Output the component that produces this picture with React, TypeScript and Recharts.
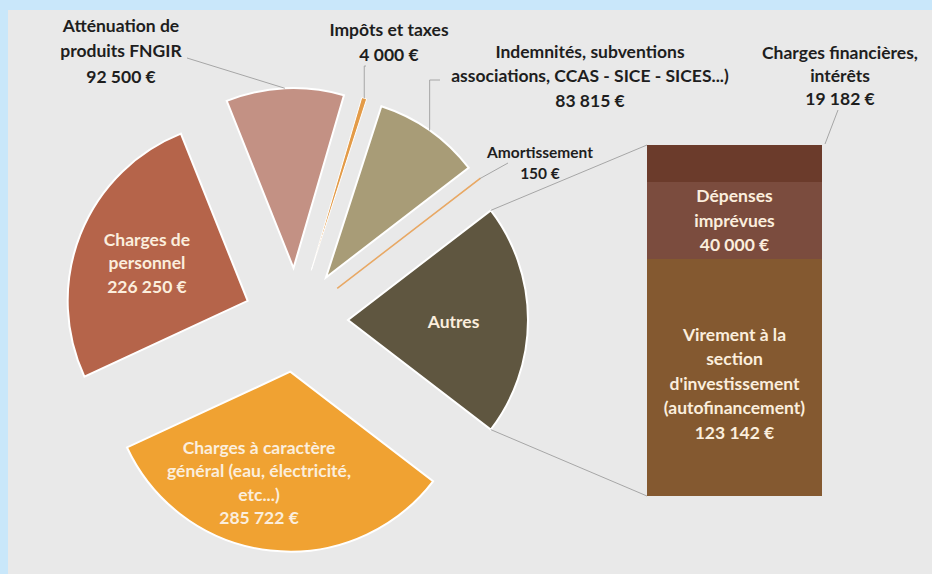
import React from "react";
import {
  PieChart,
  Pie,
  Cell,
  Sector,
  BarChart,
  Bar,
  XAxis,
  YAxis,
  LabelList,
} from "recharts";

const W = 932;
const H = 574;

// Détail de la part "Autres" (barre empilée, du bas vers le haut)
const barNames = ["Virement", "Dépenses imprévues", "Charges financières"];
const barLines = [
  ["Virement à la", "section", "d'investissement", "(autofinancement)"],
  ["Dépenses", "imprévues"],
  ["Charges financières,", "intérêts"],
];
const barValues = [123142, 40000, 19182];
const barColors = ["#845930", "#7B4C3E", "#6B3B2B"];

const autresValue = barValues.reduce((s, v) => s + v, 0);

// Camembert, dans le sens horaire à partir de "Autres"
const pieNames = [
  "Autres",
  "Charges à caractère général",
  "Charges de personnel",
  "Atténuation de produits FNGIR",
  "Impôts et taxes",
  "Indemnités, subventions",
  "Amortissement",
];
const pieLines = [
  ["Autres"],
  ["Charges à caractère", "général (eau, électricité,", "etc...)"],
  ["Charges de", "personnel"],
  ["Atténuation de", "produits FNGIR"],
  ["Impôts et taxes"],
  ["Indemnités, subventions", "associations, CCAS - SICE - SICES...)"],
  ["Amortissement"],
];
const pieValues = [autresValue, 285722, 226250, 92500, 4000, 83815, 150];
const pieColors = ["#5F5640", "#F0A232", "#B5644A", "#C39184", "#E39B48", "#A89C77", "#E8A864"];

const pieData = pieNames.map((name, i) => ({ name, value: pieValues[i] }));
const pieTotal = pieValues.reduce((s, v) => s + v, 0);
const barRow = barNames.reduce<Record<string, number | string>>(
  (row, n, i) => ({ ...row, [n]: barValues[i] }),
  { name: "Autres" }
);

// mise en page
const PIE = { cx: 296, cy: 320, r: 180, explode: 52 };
const BAR_BOX = { left: 647, top: 145, right: 822, bottom: 496 };
const START = (autresValue / pieTotal) * 180;
const FONT = "Lato, 'Open Sans', sans-serif";
const FS = 17.5;
const DARK = "#1E1E1E";
const CREAM = "#FBEEDD";
const LEADER = "#A6A6A6";

// étiquettes extérieures (index de la part -> position du texte, départ du trait)
const callouts: Record<number, { x: number; y: number; fs: number; lh: number; from: [number, number]; elbow?: boolean }> = {
  3: { x: 121, y: 25, fs: FS, lh: 25.5, from: [187, 58] },
  4: { x: 389, y: 29, fs: FS, lh: 25.5, from: [366, 66], elbow: true },
  5: { x: 590, y: 51, fs: FS, lh: 24.5, from: [440, 80], elbow: true },
  6: { x: 540, y: 152, fs: 15.5, lh: 21, from: [508, 163] },
};
// petits décalages des étiquettes intérieures
const insideNudge: Record<number, [number, number]> = { 0: [-6, 1], 1: [-19, 0], 2: [3, 3] };
const barNudge = [6, 0, 0];
const finCallout = { x: 840, y: 52, fs: FS, lh: 23, from: [838, 110] as [number, number] };

const RAD = Math.PI / 180;
const polar = (cx: number, cy: number, r: number, a: number) => [
  cx + r * Math.cos(-a * RAD),
  cy + r * Math.sin(-a * RAD),
];
const fmt = (v: number) => String(v).replace(/\B(?=(\d{3})+(?!\d))/g, " ") + " €";

const TextBlock = ({ x, y, lines, fs, lh, fill }: any) => (
  <text x={x} y={y} textAnchor="middle" fontFamily={FONT} fontWeight={700} fontSize={fs} fill={fill}>
    {lines.map((l: string, k: number) => (
      <tspan key={k} x={x} y={y + k * lh} dominantBaseline="central">
        {l}
      </tspan>
    ))}
  </text>
);

const explodedSlice = (props: any) => {
  const { cx, cy, innerRadius, outerRadius, startAngle, endAngle, midAngle, fill, stroke, strokeWidth } = props;
  const [ex, ey] = polar(cx, cy, PIE.explode, midAngle);
  return (
    <Sector
      cx={ex}
      cy={ey}
      innerRadius={innerRadius}
      outerRadius={outerRadius}
      startAngle={startAngle}
      endAngle={endAngle}
      fill={fill}
      stroke={stroke}
      strokeWidth={strokeWidth}
    />
  );
};

const pieLabel = (props: any) => {
  const { cx, cy, midAngle, outerRadius, startAngle, endAngle, index } = props;
  const [ex, ey] = polar(cx, cy, PIE.explode, midAngle);
  const lines = index === 0 ? pieLines[0] : [...pieLines[index], fmt(pieValues[index])];
  const c = callouts[index];
  if (c) {
    const [tx, ty] = polar(ex, ey, outerRadius, midAngle);
    const pts = c.elbow
      ? `${c.from[0]},${c.from[1]} ${tx},${c.from[1]} ${tx},${ty}`
      : `${c.from[0]},${c.from[1]} ${tx},${ty}`;
    return (
      <g key={`l${index}`}>
        <polyline points={pts} fill="none" stroke={LEADER} strokeWidth={1} />
        <TextBlock x={c.x} y={c.y} lines={lines} fs={c.fs} lh={c.lh} fill={DARK} />
      </g>
    );
  }
  const [lx, ly] = polar(ex, ey, outerRadius * 0.62, midAngle);
  const [nx, ny] = insideNudge[index] ?? [0, 0];
  const lh = 23.5;
  const connectors =
    index === 0
      ? (() => {
          const [ax, ay] = polar(ex, ey, outerRadius, startAngle);
          const [bx, by] = polar(ex, ey, outerRadius, endAngle);
          return (
            <>
              <line x1={ax} y1={ay} x2={BAR_BOX.left} y2={BAR_BOX.top} stroke={LEADER} strokeWidth={1} />
              <line x1={bx} y1={by} x2={BAR_BOX.left} y2={BAR_BOX.bottom} stroke={LEADER} strokeWidth={1} />
            </>
          );
        })()
      : null;
  return (
    <g key={`l${index}`}>
      {connectors}
      <TextBlock
        x={lx + nx}
        y={ly + ny - ((lines.length - 1) * lh) / 2}
        lines={lines}
        fs={FS}
        lh={lh}
        fill={CREAM}
      />
    </g>
  );
};

const barLabel = (i: number) => (props: any) => {
  const { x, y, width, height } = props;
  const lines = [...barLines[i], fmt(barValues[i])];
  if (i === 2) {
    const c = finCallout;
    return (
      <g>
        <line x1={c.from[0]} y1={c.from[1]} x2={x + width + 3} y2={y - 1} stroke={LEADER} strokeWidth={1} />
        <TextBlock x={c.x} y={c.y} lines={lines} fs={c.fs} lh={c.lh} fill={DARK} />
      </g>
    );
  }
  const lh = 24.5;
  return (
    <TextBlock
      x={x + width / 2}
      y={y + height / 2 - ((lines.length - 1) * lh) / 2 + barNudge[i]}
      lines={lines}
      fs={FS}
      lh={lh}
      fill={CREAM}
    />
  );
};

export default function App() {
  return (
    <div style={{ position: "fixed", left: 0, top: 0, width: W, height: H, background: "#C9E7FA", overflow: "hidden" }}>
      <div style={{ position: "absolute", left: 8, top: 10, right: 0, bottom: 0, background: "#E9E9E9" }} />
      <div style={{ position: "absolute", left: 0, top: 0 }}>
        <PieChart width={W} height={H} margin={{ top: 0, right: 0, bottom: 0, left: 0 }}>
          <Pie
            data={pieData}
            dataKey="value"
            nameKey="name"
            cx={PIE.cx}
            cy={PIE.cy}
            outerRadius={PIE.r}
            startAngle={START}
            endAngle={START - 360}
            stroke="#FFFFFF"
            strokeWidth={2}
            shape={explodedSlice}
            label={pieLabel}
            labelLine={false}
            isAnimationActive={false}
          >
            {pieData.map((d, i) => (
              <Cell
                key={d.name}
                fill={pieColors[i]}
                stroke={i === 6 ? pieColors[i] : "#FFFFFF"}
                strokeWidth={i === 6 ? 1.5 : i === 4 ? 1 : 2}
              />
            ))}
          </Pie>
        </PieChart>
      </div>
      <div style={{ position: "absolute", left: 0, top: 0 }}>
        <BarChart
          width={W}
          height={H}
          data={[barRow]}
          margin={{ top: BAR_BOX.top, right: W - BAR_BOX.right, bottom: H - BAR_BOX.bottom, left: BAR_BOX.left }}
          barCategoryGap={0}
        >
          <XAxis dataKey="name" hide />
          <YAxis hide domain={[0, autresValue]} />
          {barNames.map((n, i) => (
            <Bar key={n} dataKey={n} stackId="autres" fill={barColors[i]} isAnimationActive={false}>
              <LabelList dataKey={n} content={barLabel(i)} />
            </Bar>
          ))}
        </BarChart>
      </div>
    </div>
  );
}
